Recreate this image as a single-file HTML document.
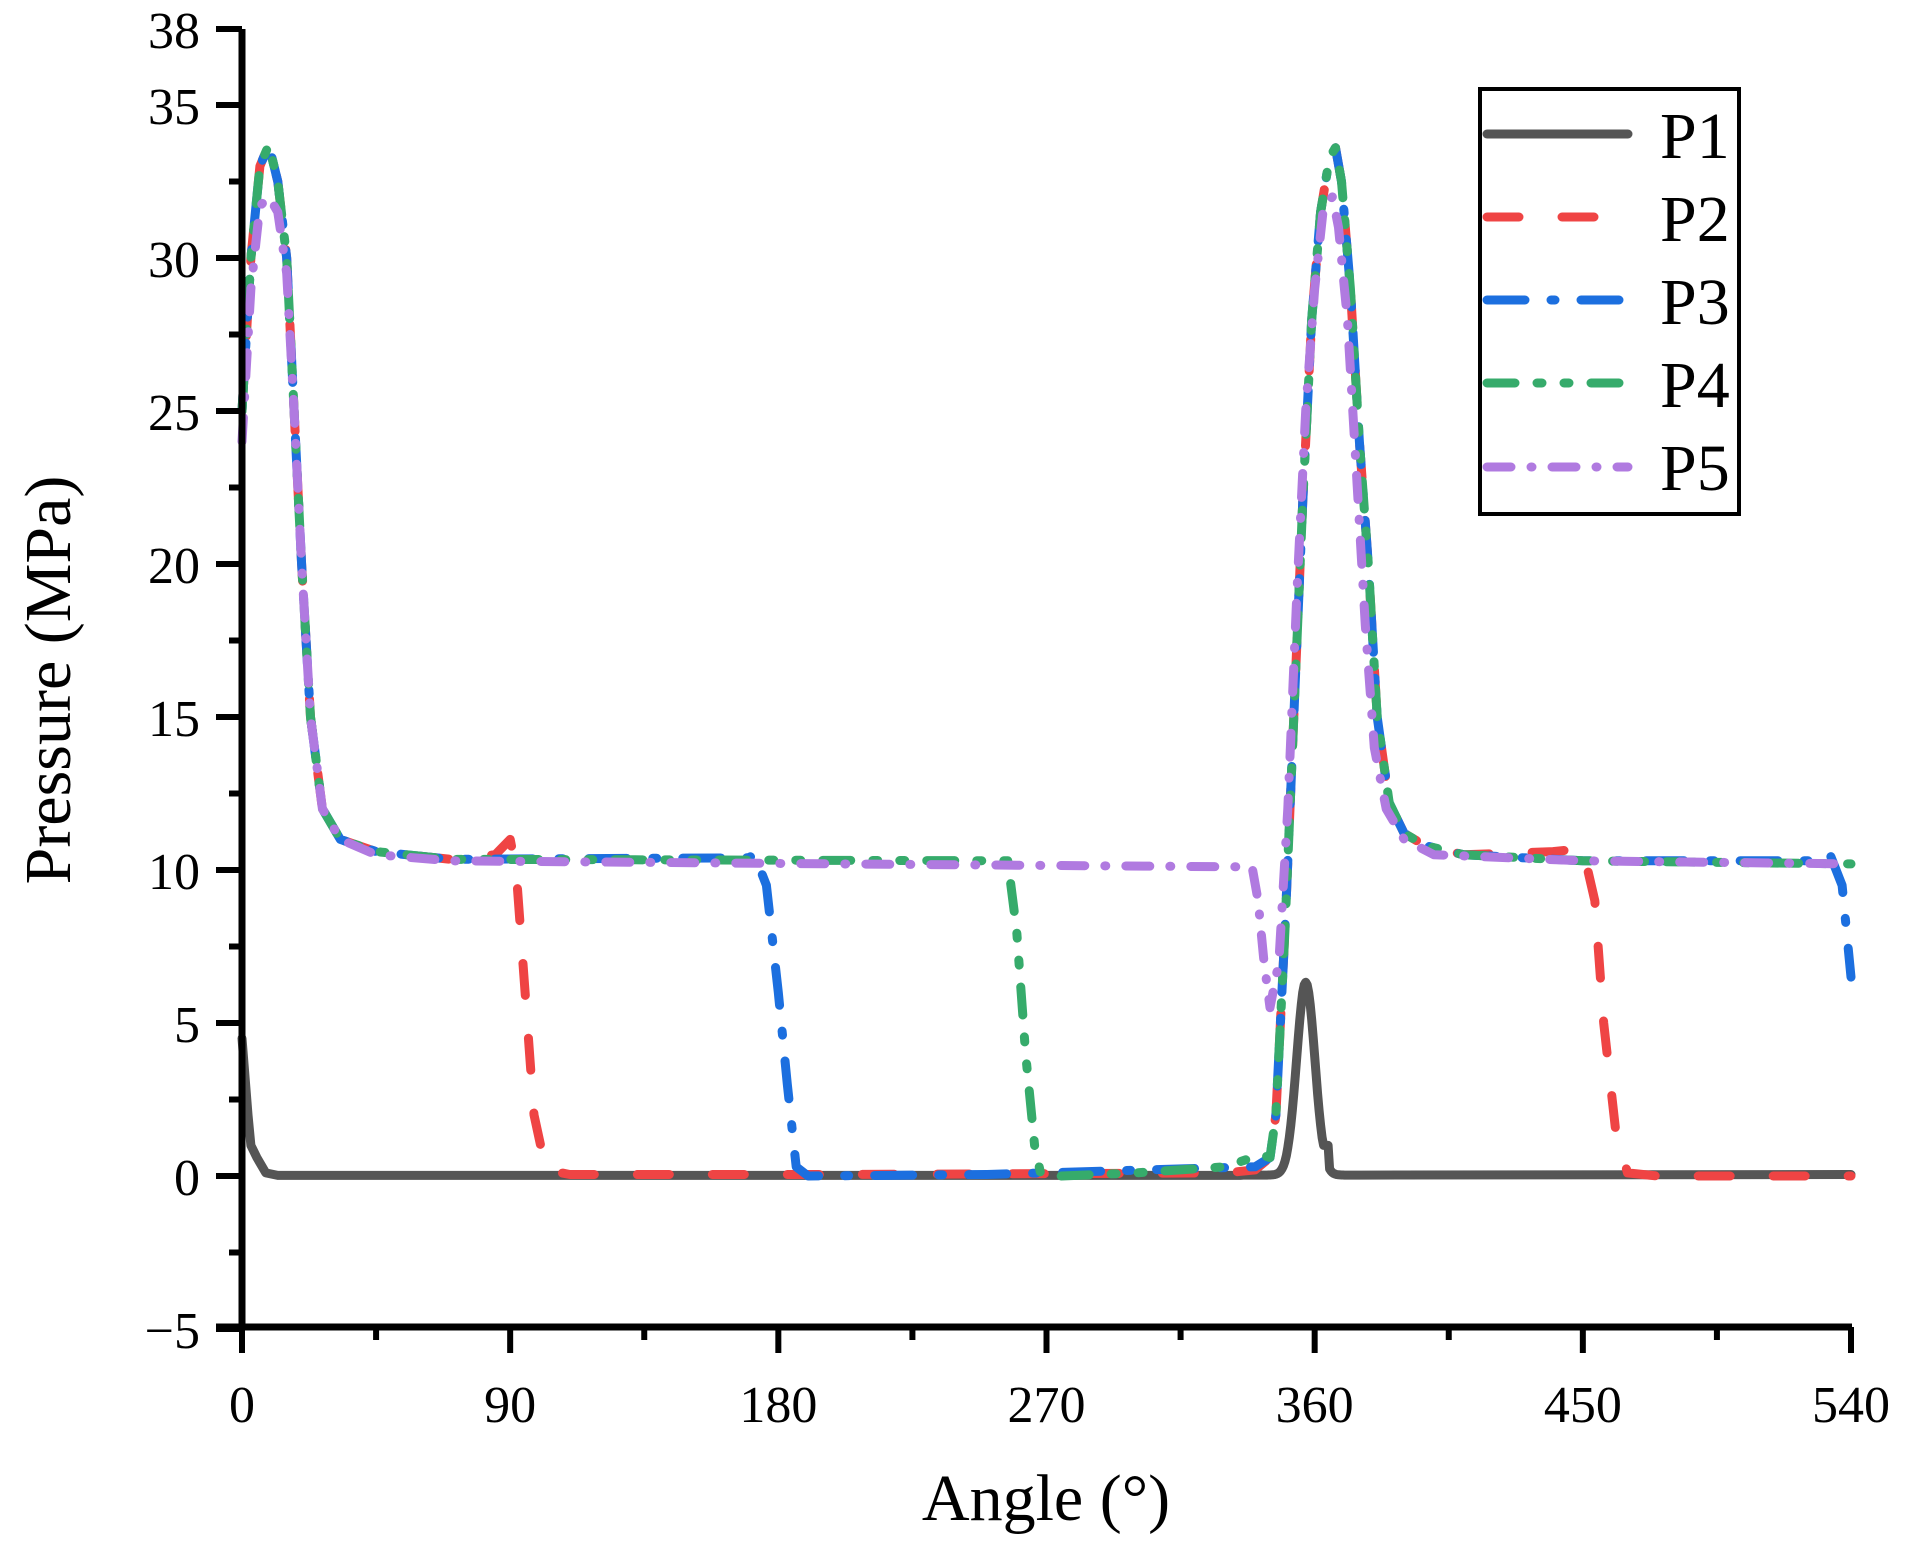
<!DOCTYPE html>
<html><head><meta charset="utf-8"><style>
html,body{margin:0;padding:0;background:#fff}
svg{display:block}
text{font-family:"Liberation Serif",serif;fill:#000}
</style></head><body>
<svg id="s" width="1907" height="1558" viewBox="0 0 1907 1558" xmlns="http://www.w3.org/2000/svg">
<g id="plot"></g>
<g id="axes"></g>
<g stroke="#000" stroke-width="4" fill="#fff"><rect x="1480" y="89" width="259" height="425"/></g>
<g stroke-width="9" stroke-linecap="round" fill="none">
<line x1="1487" y1="134" x2="1628" y2="134" stroke="#555"/>
<line x1="1487" y1="217" x2="1628" y2="217" stroke="#ef4444" stroke-dasharray="32 43"/>
<line x1="1487" y1="300" x2="1628" y2="300" stroke="#1c6fdf" stroke-dasharray="38 26 4 26"/>
<line x1="1487" y1="383" x2="1628" y2="383" stroke="#36ab6b" stroke-dasharray="28 22 5 22 5 22"/>
<line x1="1487" y1="467" x2="1628" y2="467" stroke="#b07ae0" stroke-dasharray="24 20 1 20"/>
</g>
<g font-size="66">
<text x="1660" y="158">P1</text><text x="1660" y="241">P2</text><text x="1660" y="324">P3</text><text x="1660" y="407">P4</text><text x="1660" y="490">P5</text>
</g>
<text x="1046" y="1520" font-size="66" text-anchor="middle">Angle (°)</text>
<text transform="translate(70,680) rotate(-90)" font-size="66" text-anchor="middle">Pressure (MPa)</text>
</svg>
<script>
const X=a=>242+a*(1851-242)/540, Y=v=>258+(30-v)*30.6;
const ns="http://www.w3.org/2000/svg";
function el(p,t,at,txt){const e=document.createElementNS(ns,t);for(const k in at)e.setAttribute(k,at[k]);if(txt!==undefined)e.textContent=txt;p.appendChild(e);return e;}
const ax=document.getElementById('axes'),pl=document.getElementById('plot');
el(ax,'line',{x1:242,y1:29,x2:242,y2:1330,stroke:'#000','stroke-width':7});
el(ax,'line',{x1:216,y1:1327,x2:1852,y2:1327,stroke:'#000','stroke-width':7});
el(ax,'line',{x1:216,y1:29,x2:242,y2:29,stroke:'#000','stroke-width':6});
el(ax,'text',{x:200,y:48,'font-size':52,'text-anchor':'end'},'38');
for(let v=-5;v<=35;v+=2.5){const y=Y(v);const maj=v%5==0;
 el(ax,'line',{x1:maj?216:229,y1:y,x2:242,y2:y,stroke:'#000','stroke-width':6});
 if(maj)el(ax,'text',{x:200,y:y+19,'font-size':52,'text-anchor':'end'},v<0?'\u2212'+(-v):String(v));}
for(let a=0;a<=540;a+=45){const x=X(a);const maj=a%90==0;
 el(ax,'line',{x1:x,y1:1327,x2:x,y2:maj?1353:1340,stroke:'#000','stroke-width':6});
 if(maj)el(ax,'text',{x:x,y:1422,'font-size':52,'text-anchor':'middle'},String(a));}
const peakA=[[0,25],[3,30],[6,33],[9,33.7],[12,32.5],[15,30],[17.5,25],[20,20],[23,15],[27,12],[33,11],[45,10.6],[70,10.35]];
function peakB(o){return [[345,0.6],[347,2],[350,8],[353,15],[356,22],[359,28],[362,31.5],[365,33.3],[367,33.6],[369,32.5],[372,29],[375,24],[378,20],[381,15],[385,12.2],[390,11.2],[397,10.8],[410,10.5]];}
const p1=[[0,4.5],[2,2],[3,1],[5,0.6],[8,0.1],[12,0.02],[335,0.02]];
for(let a=336;a<=375;a+=0.5){let v=6.3*Math.exp(-Math.pow((a-357)/4.3,2))+0.03; if(a>=362&&a<=364.5)v=Math.max(v,1.0); p1.push([a,v]);}
p1.push([540,0.05]);
const S={
P1:p1,
P2:[...peakA,[85,10.5],[90,11],[92,10],[95,6],[98,2],[102,0.2],[110,0.05],[200,0.05],[330,0.1],[340,0.2],...peakB(),[440,10.6],[450,10.7],[454,9],[457,5],[461,1.5],[465,0.1],[475,0],[540,0]],
P3:[...peakA,[170,10.4],[172,10.5],[176,9.5],[180,6],[183,3],[186,0.3],[190,0],[250,0.05],[340,0.3],...peakB(),[450,10.3],[530,10.3],[533,10.5],[537,9.5],[540,6.5]],
P4:[...peakA,[255,10.3],[257,10.3],[260,8],[263,4],[266,1],[268,0.1],[275,0],[300,0.1],[330,0.3],[342,0.7],...peakB(),[450,10.3],[540,10.2]],
P5:[[0,24],[3,29],[6,31.7],[9,32],[12,31.5],[15,29.5],[17.5,25],[20,20],[23,15],[27,12],[33,11],[45,10.5],[70,10.3],[200,10.2],[339,10.1],[341,9],[343,7],[345,5.5],[348,7],[351,12],[354,19],[357,25],[360,29],[363,31.7],[366,32],[368,31],[371,28],[374,23],[377,18],[380,14],[384,12],[390,11],[400,10.5],[450,10.3],[540,10.2]]
};
const st={P1:['#555',''],P2:['#ef4444','32 43'],P3:['#1c6fdf','38 26 4 26'],P4:['#36ab6b','28 22 5 22 5 22'],P5:['#b07ae0','24 20 1 20']};
for(const k of ['P1','P2','P3','P4','P5']){
 const d=S[k].map((p,i)=>(i?'L':'M')+X(p[0]).toFixed(1)+' '+Y(p[1]).toFixed(1)).join(' ');
 const a={d:d,fill:'none',stroke:st[k][0],'stroke-width':9,'stroke-linecap':'round','stroke-linejoin':'round'};
 if(st[k][1])a['stroke-dasharray']=st[k][1];
 el(pl,'path',a);}
</script>
</body></html>
